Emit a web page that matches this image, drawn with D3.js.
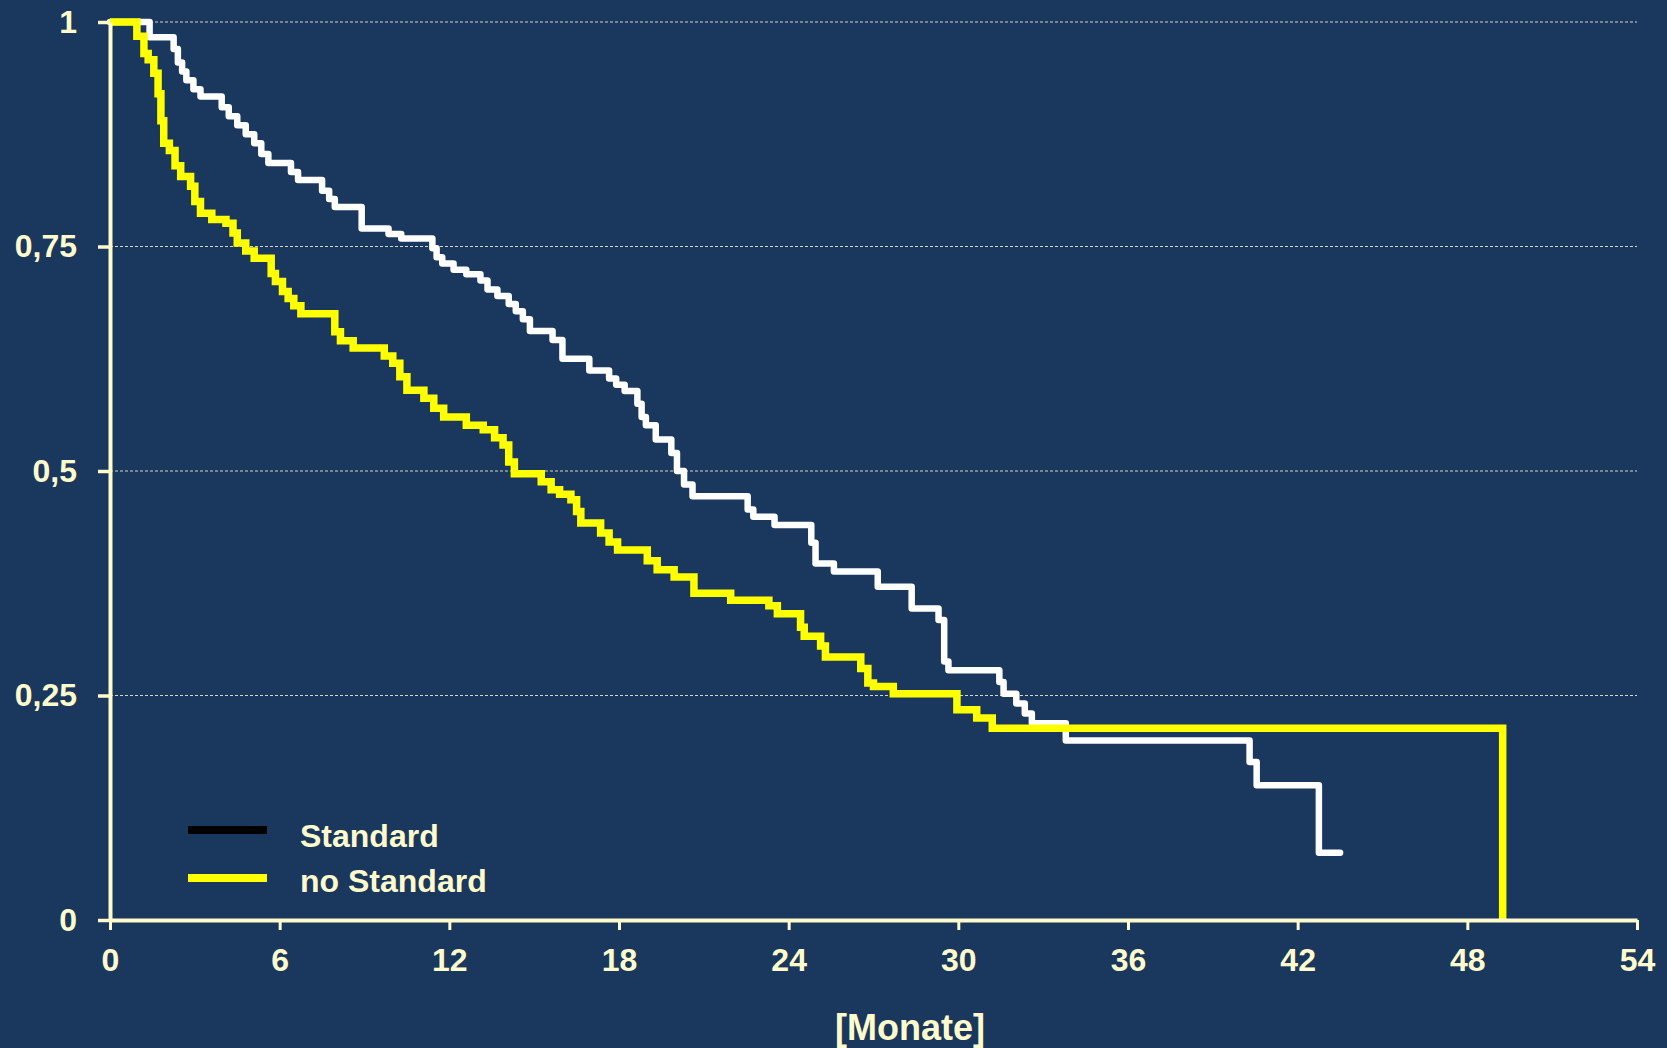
<!DOCTYPE html>
<html>
<head>
<meta charset="utf-8">
<script src="https://cdn.jsdelivr.net/npm/d3@7"></script>
<style>
  html, body { margin: 0; padding: 0; background: #1a375e; }
  svg { display: block; }
  text { font-family: Arial, "Liberation Sans", sans-serif; font-weight: bold; fill: #fffbcc; }
</style>
</head>
<body>
<svg id="chart" width="1667" height="1048"></svg>
<script>
const xTicks = [0, 6, 12, 18, 24, 30, 36, 42, 48, 54];
const yTicks = [0, 0.25, 0.5, 0.75, 1];
const yTickLabels = ["0", "0,25", "0,5", "0,75", "1"];
const xTitle = "[Monate]";
const seriesNames = ["Standard", "no Standard"];

const standardTime = [0,1.4,2.25,2.4,2.55,2.7,2.95,3.2,3.95,4.2,4.5,4.8,5.1,5.35,5.6,6.4,6.65,7.5,7.75,7.95,8.9,9.85,10.3,11.4,11.55,11.75,12.15,12.6,13.1,13.35,13.7,14.1,14.35,14.6,14.85,15.65,16.0,16.95,17.65,17.9,18.2,18.65,18.8,18.95,19.3,19.85,20.05,20.3,20.6,22.55,22.75,23.5,24.8,24.95,25.6,27.15,28.35,29.3,29.5,29.65,31.45,31.6,32.05,32.35,32.6,33.8,40.3,40.55,42.75,43.5];
const standardSurv = [1,0.983,0.97,0.955,0.945,0.935,0.925,0.917,0.905,0.895,0.885,0.875,0.865,0.853,0.843,0.833,0.824,0.812,0.803,0.794,0.77,0.764,0.759,0.748,0.738,0.731,0.724,0.719,0.712,0.702,0.695,0.686,0.678,0.669,0.656,0.646,0.625,0.612,0.603,0.596,0.589,0.575,0.56,0.551,0.535,0.52,0.5,0.485,0.472,0.457,0.449,0.44,0.42,0.397,0.388,0.371,0.347,0.334,0.288,0.278,0.265,0.252,0.241,0.23,0.219,0.2,0.176,0.15,0.075,0.075];

const noStandardTime = [0,0.95,1.2,1.35,1.55,1.7,1.8,1.9,2.1,2.3,2.5,2.85,3.0,3.2,3.6,4.1,4.35,4.5,4.8,5.1,5.7,5.85,6.1,6.3,6.5,6.75,7.95,8.15,8.6,9.7,10.0,10.25,10.5,11.1,11.45,11.8,12.6,13.2,13.6,13.9,14.1,14.3,15.25,15.6,15.9,16.3,16.5,16.65,17.35,17.65,17.95,19.0,19.35,19.95,20.65,21.95,23.3,23.6,24.42,24.55,25.13,25.3,26.55,26.8,27.0,27.7,29.95,30.65,31.2,49.25];
const noStandardSurv = [1,0.984,0.965,0.958,0.943,0.92,0.89,0.865,0.857,0.84,0.828,0.817,0.8,0.787,0.78,0.776,0.765,0.754,0.745,0.737,0.72,0.711,0.7,0.692,0.684,0.675,0.655,0.645,0.637,0.628,0.62,0.605,0.59,0.581,0.57,0.56,0.551,0.546,0.537,0.529,0.51,0.497,0.488,0.479,0.474,0.468,0.455,0.442,0.431,0.421,0.412,0.4,0.39,0.382,0.364,0.356,0.35,0.341,0.326,0.316,0.305,0.293,0.28,0.264,0.26,0.252,0.234,0.225,0.2135,0];

const cream = "#fffbcc";
const svg = d3.select("#chart");
const x = d3.scaleLinear().domain([0, 54]).range([110, 1637]);
const y = d3.scaleLinear().domain([0, 1]).range([920, 22]);

// gridlines
svg.append("g").selectAll("line").data(yTicks.filter(d => d > 0)).join("line")
  .attr("x1", x(0)).attr("x2", x(54))
  .attr("y1", d => y(d)).attr("y2", d => y(d))
  .attr("stroke", "#d6d6c8").attr("stroke-width", 1).attr("stroke-dasharray", "3,2");

// curves
const line = d3.line().x(d => x(d[0])).y(d => y(d[1])).curve(d3.curveStepAfter);
const stdData = standardTime.map((t, i) => [t, standardSurv[i]]);
const noStdData = noStandardTime.map((t, i) => [t, noStandardSurv[i]]);

svg.append("path").datum(stdData).attr("d", line)
  .attr("fill", "none").attr("stroke", "#ffffff").attr("stroke-width", 6.5)
  .attr("stroke-linejoin", "round").attr("stroke-linecap", "round");
svg.append("path").datum(noStdData).attr("d", line)
  .attr("fill", "none").attr("stroke", "#ffff00").attr("stroke-width", 7.5)
  .attr("stroke-linejoin", "miter").attr("stroke-linecap", "butt");

// axes
const xAxis = d3.axisBottom(x).tickValues(xTicks).tickSize(10).tickSizeOuter(0).tickPadding(18);
const gx = svg.append("g").attr("transform", `translate(0,${y(0)})`).call(xAxis);
gx.select(".domain").attr("stroke", cream).attr("stroke-width", 4);
gx.selectAll(".tick line").attr("stroke", cream).attr("stroke-width", 3);
gx.selectAll(".tick text").attr("fill", cream).attr("font-size", 32)
  .attr("font-family", "Arial, 'Liberation Sans', sans-serif").attr("font-weight", "bold");

const yAxis = d3.axisLeft(y).tickValues(yTicks).tickFormat((d, i) => yTickLabels[i])
  .tickSize(12).tickSizeOuter(0).tickPadding(21);
const gy = svg.append("g").attr("transform", `translate(${x(0)},0)`).call(yAxis);
gy.select(".domain").attr("stroke", cream).attr("stroke-width", 4);
gy.selectAll(".tick line").attr("stroke", cream).attr("stroke-width", 3.5);
gy.selectAll(".tick text").attr("fill", cream).attr("font-size", 32)
  .attr("font-family", "Arial, 'Liberation Sans', sans-serif").attr("font-weight", "bold");

// x title
svg.append("text").attr("x", 910).attr("y", 1040).attr("text-anchor", "middle")
  .attr("font-size", 36).text(xTitle);

// legend
const legendColors = ["#000000", "#ffff00"];
const lg = svg.append("g");
seriesNames.forEach((name, i) => {
  const cy = 830 + i * 48;
  lg.append("line").attr("x1", 188).attr("x2", 267).attr("y1", cy).attr("y2", cy)
    .attr("stroke", legendColors[i]).attr("stroke-width", 8);
  lg.append("text").attr("x", 300).attr("y", cy + 17 - i * 3).attr("font-size", 32).text(name);
});
</script>
</body>
</html>
